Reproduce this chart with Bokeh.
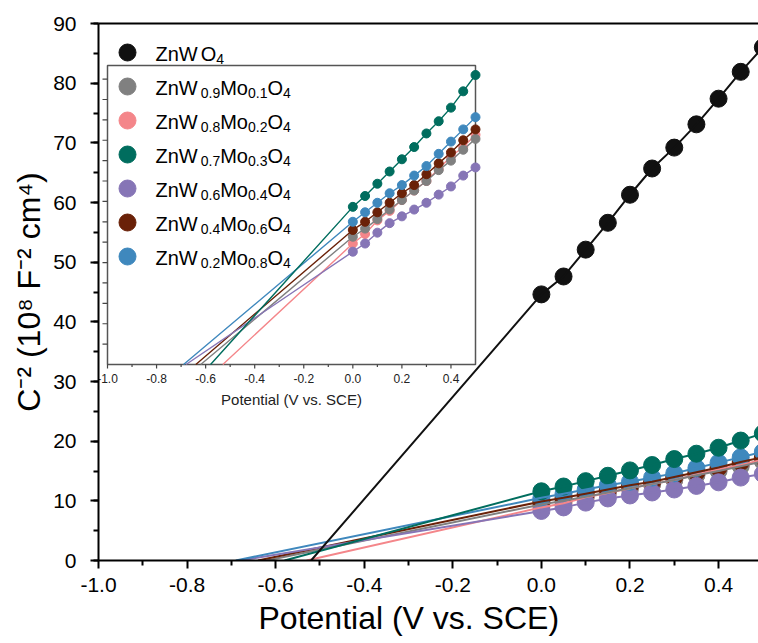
import numpy as np
from bokeh.plotting import figure
from bokeh.models import (Range1d, LinearAxis, FixedTicker, SingleIntervalTicker,
                          NumeralTickFormatter, Label, Title)
from bokeh.core.properties import value
from bokeh.embed import file_html
from bokeh.resources import INLINE

# ---------------- data ----------------
potential = [0.0, 0.05, 0.10, 0.15, 0.20, 0.25, 0.30, 0.35, 0.40, 0.45, 0.50]

w_frac = [None, "0.9", "0.8", "0.7", "0.6", "0.4", "0.2"]
mo_frac = [None, "0.1", "0.2", "0.3", "0.4", "0.6", "0.8"]

c2_znwo4 = [44.6, 47.6, 52.1, 56.6, 61.3, 65.7, 69.2, 73.1, 77.4, 81.9, 86.0]
c2_mo01 = [9.4, 10.0, 10.7, 11.4, 12.1, 12.8, 13.5, 14.3, 15.0, 15.8, 16.6]
c2_mo02 = [8.9, 9.6, 10.6, 11.3, 12.1, 12.8, 13.5, 14.4, 15.3, 16.0, 16.9]
c2_mo03 = [11.6, 12.4, 13.3, 14.2, 15.1, 16.0, 17.0, 17.9, 18.9, 20.1, 21.3]
c2_mo04 = [8.3, 8.9, 9.7, 10.4, 10.9, 11.4, 11.9, 12.5, 13.1, 13.9, 14.5]
c2_mo06 = [9.9, 10.5, 11.2, 11.9, 12.6, 13.2, 14.0, 14.8, 15.6, 16.5, 17.3]
c2_mo08 = [10.5, 11.2, 11.9, 12.6, 13.2, 13.9, 14.6, 15.5, 16.4, 17.3, 18.2]

# x-intercepts of the linear fits (flat-band potentials)
flat_band = [-0.52, -0.62, -0.53, -0.58, -0.68, -0.64, -0.69]

series = [c2_znwo4, c2_mo01, c2_mo02, c2_mo03, c2_mo04, c2_mo06, c2_mo08]
colors = ["#111111", "#808080", "#f4868a", "#006d5e", "#8675b6", "#6a2108", "#3f88bd"]
draw_order = [2, 1, 5, 4, 6, 3, 0]

x_ticks = [-1.0, -0.8, -0.6, -0.4, -0.2, 0.0, 0.2, 0.4]
x_minor = [-0.9, -0.7, -0.5, -0.3, -0.1, 0.1, 0.3]
x_tick_labels = ["-1.0", "-0.8", "-0.6", "-0.4", "-0.2", "0.0", "0.2", "0.4"]
inset_y_minor = [1.5 * k for k in range(1, 15)]
INSET_X = (-1.0, 0.5)
INSET_Y = (0.0, 22.0)

FONT = "Liberation Sans"

# ---------------- main figure ----------------
W, H = 758, 643
BL, BR, BT, BB = 98, 0, 23, 83
fw, fh = W - BL - BR, H - BT - BB
PX_X = 442.9                      # pixels per volt
X0 = -1.0
X1 = X0 + fw / PX_X
Y0, Y1 = 0.0, 90.0
px_y = fh / (Y1 - Y0)

p = figure(width=W, height=H, x_range=Range1d(X0, X1), y_range=Range1d(Y0, Y1),
           output_backend="svg", toolbar_location=None,
           min_border_left=BL, min_border_right=BR, min_border_top=BT, min_border_bottom=BB)
p.xgrid.visible = False
p.ygrid.visible = False
p.outline_line_color = None
p.background_fill_color = "white"
p.border_fill_color = "white"

p.xaxis.ticker = FixedTicker(ticks=x_ticks, minor_ticks=x_minor)
p.xaxis.formatter = NumeralTickFormatter(format="0.0")
p.yaxis.ticker = SingleIntervalTicker(interval=10, num_minor_ticks=2)
for ax in (p.xaxis, p.yaxis):
    ax.axis_line_width = 2
    ax.axis_line_color = "black"
    ax.major_tick_line_width = 2
    ax.minor_tick_line_width = 2
    ax.major_tick_line_color = "black"
    ax.minor_tick_line_color = "black"
    ax.major_tick_out = 8
    ax.major_tick_in = 0
    ax.minor_tick_out = 5
    ax.minor_tick_in = 0
    ax.major_label_text_font = FONT
    ax.major_label_text_font_size = "21px"
    ax.major_label_text_color = "black"
p.xaxis.major_label_standoff = 9
p.yaxis.major_label_standoff = 14
p.yaxis.axis_label = "C\u207b\u00b2 (10\u2078 F\u207b\u00b2 cm\u2074)"
p.yaxis.axis_label_text_font = FONT
p.yaxis.axis_label_text_font_size = "32px"
p.yaxis.axis_label_text_font_style = "normal"
p.yaxis.axis_label_text_color = "black"
p.yaxis.axis_label_standoff = 3

# x-axis title, placed like the original (left of the frame centre)
x_title = Title(text="Potential (V vs. SCE)", align="left", offset=160,
                text_font=FONT, text_font_size="32px", text_font_style="normal",
                text_color="black", standoff=6)
p.add_layout(x_title, "below")

top = LinearAxis(ticker=FixedTicker(ticks=[]), axis_line_width=2, axis_line_color="black",
                 major_tick_out=0, major_tick_in=0, minor_tick_out=0, minor_tick_in=0,
                 major_label_standoff=0)
p.add_layout(top, "above")

# ---------------- inset (own ranges, placed inside the main frame) ----------------
IN_LEFT, IN_W = 9, 368          # px from frame left, px width
IN_BOTTOM, IN_H = 196, 299      # px from frame bottom, px height
isx = IN_W / (INSET_X[1] - INSET_X[0])
isy = IN_H / (INSET_Y[1] - INSET_Y[0])
ix0 = INSET_X[0] - IN_LEFT / isx
iy0 = INSET_Y[0] - IN_BOTTOM / isy
p.extra_x_ranges = {"inx": Range1d(ix0, ix0 + fw / isx)}
p.extra_y_ranges = {"iny": Range1d(iy0, iy0 + fh / isy)}
R = dict(x_range_name="inx", y_range_name="iny")

p.quad(left=[INSET_X[0]], right=[INSET_X[1]], bottom=[INSET_Y[0]], top=[INSET_Y[1]],
       fill_color="white", line_color="#555555", line_width=1.5, **R)

# inset ticks
tick_major = 4 / isy
tick_minor = 2.5 / isy
p.segment(x0=x_ticks, y0=[INSET_Y[0]] * len(x_ticks), x1=x_ticks,
          y1=[INSET_Y[0] - tick_major] * len(x_ticks), line_color="#444444", line_width=1.2, **R)
p.segment(x0=x_minor, y0=[INSET_Y[0]] * len(x_minor), x1=x_minor,
          y1=[INSET_Y[0] - tick_minor] * len(x_minor), line_color="#444444", line_width=1.2, **R)
p.segment(x0=[INSET_X[0]] * len(inset_y_minor), y0=inset_y_minor,
          x1=[INSET_X[0] - 5 / isx] * len(inset_y_minor), y1=inset_y_minor,
          line_color="#444444", line_width=1.2, **R)
p.text(x=x_ticks, y=[INSET_Y[0]] * len(x_ticks), text=x_tick_labels, text_font=value(FONT),
       text_font_size="12px", text_align="center", text_baseline="top", y_offset=9,
       text_color="#222222", **R)
p.text(x=[(INSET_X[0] + INSET_X[1]) / 2], y=[INSET_Y[0]], text=["Potential (V vs. SCE)"],
       text_font=value(FONT), text_font_size="15px", text_align="center",
       text_baseline="middle", y_offset=35, text_color="#222222", **R)

for i in draw_order:
    if i == 0:
        continue
    p.line([flat_band[i]] + potential, [0.0] + series[i], line_width=1.4, color=colors[i], **R)
    p.scatter(potential, series[i], size=9, color=colors[i], line_color=colors[i], **R)

# ---------------- main data ----------------
for i in draw_order:
    p.scatter(potential, series[i], size=17, color=colors[i], line_color=colors[i])
for i in draw_order:
    p.line([flat_band[i]] + potential, [0.0] + series[i], line_width=2, color=colors[i])

# ---------------- legend (manual, for subscripts) ----------------
ADV = {"Z": 611, "n": 556, "W": 944, "M": 833, "o": 556, "O": 778, ".": 278}
def tw(s, size):
    return sum(ADV.get(c, 556) for c in s) * size / 1000.0

BASE, SUB = 20, 14
row_px = [29 + 34 * k for k in range(7)]   # from frame top
for i in range(7):
    yrow = Y1 - row_px[i] / px_y
    p.scatter([X0 + 29 / PX_X], [yrow], size=17, color=colors[i], line_color=colors[i])
    if w_frac[i] is None:
        pieces = [("ZnW", 0), (None, 3), ("O", 0), ("4", 1)]
    else:
        pieces = [("ZnW", 0), (None, 3), (w_frac[i], 1), ("Mo", 0), (mo_frac[i], 1),
                  ("O", 0), ("4", 1)]
    xo = 57.0
    for txt, kind in pieces:
        if txt is None:
            xo += kind
            continue
        size = SUB if kind else BASE
        p.add_layout(Label(x=X0, y=yrow, x_offset=xo, y_offset=-6 if kind else -1,
                           text=txt, text_font=FONT, text_font_size=f"{size}px",
                           text_baseline="alphabetic", text_align="left", text_color="black"))
        xo += tw(txt, size)

open("out.html", "w").write(file_html(p, INLINE))
